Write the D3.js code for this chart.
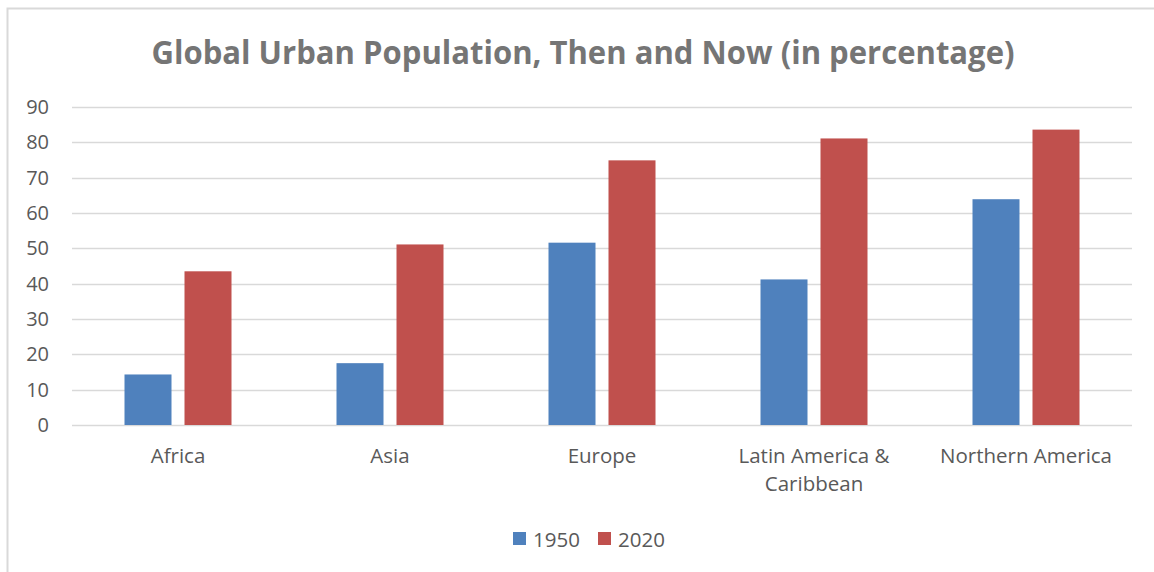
<!DOCTYPE html>
<html>
<head>
<meta charset="utf-8">
<script src="https://cdn.jsdelivr.net/npm/d3@7"></script>
<style>
  body { margin: 0; background: #fff; }
  text { font-family: "Open Sans", "Liberation Sans", sans-serif; }
</style>
</head>
<body>
<div id="chart"></div>
<script>
// data
var regions = ["Africa", "Asia", "Europe", "Latin America & Caribbean", "Northern America"];
var years = ["1950", "2020"];
var urban1950 = [14.3, 17.5, 51.6, 41.2, 63.9];
var urban2020 = [43.5, 51.1, 74.9, 81.1, 83.6];
var yTicks = [0, 10, 20, 30, 40, 50, 60, 70, 80, 90];

var W = 1154, H = 572;
var margin = {top: 107, right: 22, bottom: 147, left: 72};
var dims = {width: W - margin.left - margin.right, height: H - margin.top - margin.bottom};
var colors = {"1950": "#4f81bd", "2020": "#c0504d"};

var svg = d3.select("#chart")
  .append("svg")
    .attr("width", W)
    .attr("height", H);

// outer chart border (left and top only visible)
svg.append("path")
  .attr("d", "M7.5," + H + "V8.5H" + W)
  .attr("fill", "none")
  .attr("stroke", "#d9d9d9")
  .attr("stroke-width", 2);

svg.append("text")
  .attr("x", 583)
  .attr("y", 64)
  .attr("text-anchor", "middle")
  .attr("font-size", 32)
  .attr("font-weight", "bold")
  .attr("fill", "#757575")
  .attr("textLength", 863)
  .attr("lengthAdjust", "spacingAndGlyphs")
  .text("Global Urban Population, Then and Now (in percentage)");

var g = svg.append("g")
  .attr("transform", "translate(" + margin.left + "," + margin.top + ")");

var y = d3.scaleLinear().domain([0, 90]).range([dims.height, 0]);
var x0 = d3.scaleBand().domain(regions).range([0, dims.width]);
var x1 = d3.scaleBand().domain(years)
  .range([x0.bandwidth() / 2 - 53.5, x0.bandwidth() / 2 + 53.5])
  .paddingInner(0.2167);

// gridlines
g.selectAll(".grid")
  .data(yTicks)
  .enter()
  .append("line")
    .attr("x1", 0)
    .attr("x2", dims.width)
    .attr("y1", function(d) { return Math.round(y(d)) + 0.5; })
    .attr("y2", function(d) { return Math.round(y(d)) + 0.5; })
    .attr("stroke", "#d9d9d9")
    .attr("stroke-width", 1.5);

// y axis labels
var yAxis = g.append("g")
  .call(d3.axisLeft(y).tickValues(yTicks).tickSize(0).tickPadding(23));
yAxis.select(".domain").remove();
yAxis.selectAll("text")
  .attr("font-size", 20)
  .attr("fill", "#595959")
  .style("font-family", "'Open Sans', sans-serif");

// bars
var rows = regions.map(function(r, i) {
  return {region: r, values: [{year: "1950", value: urban1950[i]}, {year: "2020", value: urban2020[i]}]};
});

var groups = g.selectAll(".grp")
  .data(rows)
  .enter()
  .append("g")
    .attr("transform", function(d) { return "translate(" + x0(d.region) + ",0)"; });

groups.selectAll("rect")
  .data(function(d) { return d.values; })
  .enter()
  .append("rect")
    .attr("x", function(d) { return x1(d.year); })
    .attr("width", x1.bandwidth())
    .attr("y", function(d) { return y(d.value); })
    .attr("height", function(d) { return dims.height - y(d.value); })
    .attr("fill", function(d) { return colors[d.year]; });

// category labels
var xAxis = g.append("g")
  .attr("transform", "translate(0," + dims.height + ")")
  .call(d3.axisBottom(x0).tickSize(0).tickPadding(0));
xAxis.select(".domain").remove();
xAxis.selectAll("text").remove();
xAxis.selectAll(".tick")
  .append("text")
    .attr("text-anchor", "middle")
    .attr("font-size", 20.5)
    .attr("fill", "#595959")
    .each(function(d) {
      var lines = d == "Latin America & Caribbean" ? ["Latin America &", "Caribbean"] : [d];
      var t = d3.select(this);
      lines.forEach(function(l, i) {
        t.append("tspan").attr("x", 0).attr("y", 38 + i * 28).text(l);
      });
    });

// legend
var legend = svg.append("g").attr("transform", "translate(513,532)");
var items = legend.selectAll(".item")
  .data(years)
  .enter()
  .append("g")
    .attr("transform", function(d, i) { return "translate(" + (i * 85) + ",0)"; });
items.append("rect")
  .attr("width", 13)
  .attr("height", 13)
  .attr("fill", function(d) { return colors[d]; });
items.append("text")
  .attr("x", 20)
  .attr("y", 14.5)
  .attr("font-size", 20.5)
  .attr("fill", "#595959")
  .text(function(d) { return d; });
</script>
</body>
</html>
